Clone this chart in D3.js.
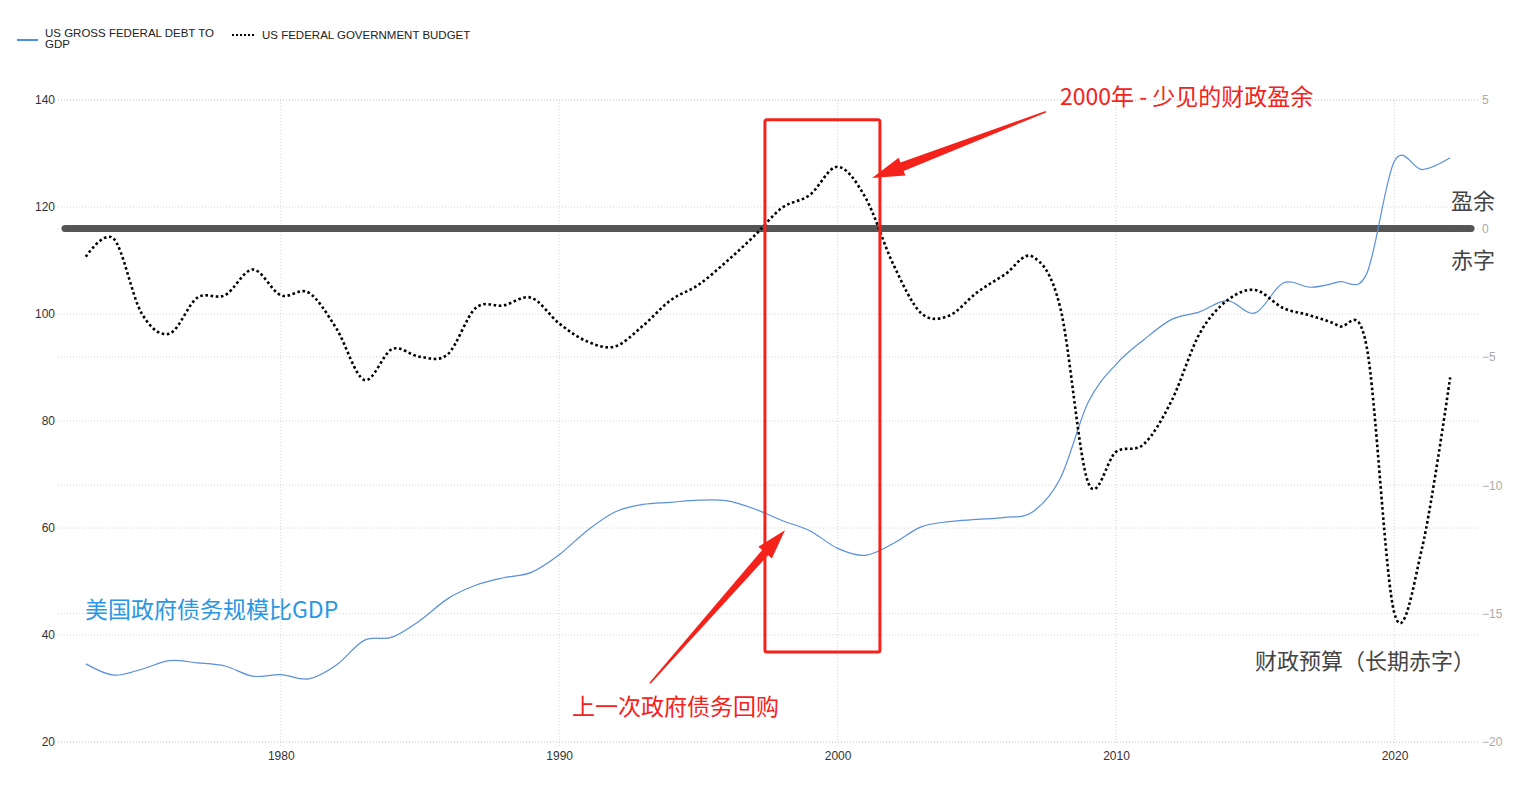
<!DOCTYPE html>
<html>
<head>
<meta charset="utf-8">
<script src="https://cdn.jsdelivr.net/npm/d3@7/dist/d3.min.js"></script>
<style>
  html, body { margin: 0; padding: 0; background: #fff; }
  svg { display: block; }
  text { font-family: "Liberation Sans", Arial, sans-serif; }
  .cjk { font-family: "Noto Sans CJK SC", "Noto Sans", sans-serif; }
</style>
</head>
<body>
<svg id="chart" width="1535" height="803"></svg>
<script>
// ---------- data ----------
const years = d3.range(1973, 2023);
const debtToGdp = [34.6, 32.5, 33.6, 35.2, 34.8, 34.2, 32.3, 32.6, 31.8, 34.4,
  39.0, 39.6, 42.7, 46.8, 49.3, 50.7, 51.7, 55.0, 59.5, 63.0,
  64.4, 64.8, 65.2, 65.1, 63.6, 61.4, 59.5, 56.2, 54.9, 57.1,
  60.2, 61.2, 61.6, 62.0, 63.0, 69.3, 83.5, 90.6, 95.2, 99.0,
  100.4, 102.5, 100.2, 105.8, 105.0, 106.0, 107.5, 128.6, 127.0, 129.2];
const budget = [-1.1, -0.4, -3.3, -4.1, -2.7, -2.6, -1.6, -2.6, -2.5, -3.9,
  -5.9, -4.7, -5.0, -4.9, -3.1, -3.0, -2.7, -3.7, -4.4, -4.6,
  -3.8, -2.8, -2.2, -1.3, -0.3, 0.8, 1.3, 2.4, 1.2, -1.4,
  -3.3, -3.4, -2.5, -1.8, -1.1, -3.1, -9.9, -8.7, -8.4, -6.7,
  -4.1, -2.8, -2.4, -3.1, -3.4, -3.8, -4.6, -15.0, -12.4, -5.8];
const xTicks = [1980, 1990, 2000, 2010, 2020];
const leftTicks = [20, 40, 60, 80, 100, 120, 140];
const rightTicks = [-20, -15, -10, -5, 0, 5];
const legendLabels = [["US GROSS FEDERAL DEBT TO", "GDP"], ["US FEDERAL GOVERNMENT BUDGET"]];

// ---------- scales ----------
const svg = d3.select("#chart");
const x = d3.scaleLinear().domain([1972, 2023]).range([58, 1478]);
const yL = d3.scaleLinear().domain([20, 140]).range([742, 100]);
const yR = d3.scaleLinear().domain([-20, 5]).range([742, 100]);

const gridColor = "#d4d4d4";

// horizontal grid (left axis)
svg.append("g").selectAll("line").data(leftTicks).join("line")
  .attr("x1", x.range()[0]).attr("x2", x.range()[1])
  .attr("y1", d => yL(d)).attr("y2", d => yL(d))
  .attr("stroke", gridColor).attr("stroke-width", 1).attr("stroke-dasharray", "1,2");
// horizontal grid (right axis)
svg.append("g").selectAll("line").data(rightTicks).join("line")
  .attr("x1", x.range()[0]).attr("x2", x.range()[1])
  .attr("y1", d => yR(d)).attr("y2", d => yR(d))
  .attr("stroke", gridColor).attr("stroke-width", 1).attr("stroke-dasharray", "1,2");
// vertical grid
svg.append("g").selectAll("line").data(xTicks).join("line")
  .attr("x1", d => x(d)).attr("x2", d => x(d))
  .attr("y1", yL(140)).attr("y2", yL(20) + 4)
  .attr("stroke", gridColor).attr("stroke-width", 1).attr("stroke-dasharray", "1,2");

// axes (labels only)
const axL = svg.append("g").attr("transform", `translate(${x.range()[0] - 3},0)`)
  .call(d3.axisLeft(yL).tickValues(leftTicks).tickSize(0).tickPadding(0));
axL.select(".domain").remove();
axL.selectAll("text").attr("font-size", 12).attr("fill", "#333")
  .attr("font-family", "Liberation Sans, Arial, sans-serif");

const axR = svg.append("g").attr("transform", `translate(${x.range()[1] + 4},0)`)
  .call(d3.axisRight(yR).tickValues(rightTicks).tickSize(0).tickPadding(0));
axR.select(".domain").remove();
axR.selectAll("text").attr("font-size", 12).attr("fill", "#aaa")
  .attr("font-family", "Liberation Sans, Arial, sans-serif");

const axB = svg.append("g").attr("transform", `translate(0,${yL(20) + 9})`)
  .call(d3.axisBottom(x).tickValues(xTicks).tickFormat(d3.format("d")).tickSize(0).tickPadding(0));
axB.select(".domain").remove();
axB.selectAll("text").attr("font-size", 12).attr("fill", "#333")
  .attr("font-family", "Liberation Sans, Arial, sans-serif");

// zero plot line (right axis)
svg.append("line")
  .attr("x1", x.range()[0] + 7).attr("x2", x.range()[1] - 7)
  .attr("y1", yR(0)).attr("y2", yR(0))
  .attr("stroke", "#555").attr("stroke-width", 7).attr("stroke-linecap", "round");

// series
const lineDebt = d3.line().x((d, i) => x(years[i])).y(d => yL(d)).curve(d3.curveCardinal);
const lineBudget = d3.line().x((d, i) => x(years[i])).y(d => yR(d)).curve(d3.curveCardinal);

svg.append("path").datum(debtToGdp).attr("d", lineDebt)
  .attr("fill", "none").attr("stroke", "#5a90dc").attr("stroke-width", 1.2);
svg.append("path").datum(budget).attr("d", lineBudget)
  .attr("fill", "none").attr("stroke", "#000").attr("stroke-width", 2.6)
  .attr("stroke-dasharray", "2.6,2.6");

// legend
const lg = svg.append("g");
lg.append("line").attr("x1", 17).attr("x2", 38).attr("y1", 40).attr("y2", 40)
  .attr("stroke", "#4d8fe0").attr("stroke-width", 2);
lg.append("text").attr("x", 45).attr("y", 36.5).attr("font-size", 11.5).attr("fill", "#222")
  .selectAll("tspan").data(legendLabels[0]).join("tspan")
  .attr("x", 45).attr("dy", (d, i) => i === 0 ? 0 : 11.5).text(d => d);
lg.append("line").attr("x1", 232).attr("x2", 256).attr("y1", 35).attr("y2", 35)
  .attr("stroke", "#000").attr("stroke-width", 2).attr("stroke-dasharray", "2,2");
lg.append("text").attr("x", 262).attr("y", 39).attr("font-size", 11.5).attr("fill", "#222")
  .text(legendLabels[1][0]);

// ---------- annotations ----------
const red = "#f5221b";
svg.append("rect")
  .attr("x", x(1997.39)).attr("y", yL(136.3))
  .attr("width", x(2001.52) - x(1997.39)).attr("height", yL(36.8) - yL(136.3))
  .attr("rx", 2).attr("fill", "none").attr("stroke", red).attr("stroke-width", 3);

function arrowPath(tx, ty, px, py, tailW, shaftW, headW, headL) {
  const dx = px - tx, dy = py - ty, L = Math.hypot(dx, dy);
  const ux = dx / L, uy = dy / L, nx = -uy, ny = ux;
  const bx = px - ux * headL, by = py - uy * headL;
  const pts = [
    [tx + nx * tailW / 2, ty + ny * tailW / 2],
    [bx + nx * shaftW / 2, by + ny * shaftW / 2],
    [bx + nx * headW / 2, by + ny * headW / 2],
    [px, py],
    [bx - nx * headW / 2, by - ny * headW / 2],
    [bx - nx * shaftW / 2, by - ny * shaftW / 2],
    [tx - nx * tailW / 2, ty - ny * tailW / 2]
  ];
  return "M" + pts.map(p => p.join(",")).join("L") + "Z";
}
svg.append("path")
  .attr("d", arrowPath(x(2007.48), yL(137.8), x(2001.24), yL(125.4), 1.5, 9, 19, 32))
  .attr("fill", red);
svg.append("path")
  .attr("d", arrowPath(x(1993.26), yL(31.0), x(1998.11), yL(59.6), 1.5, 8, 18, 30))
  .attr("fill", red);

const ann = [
  { t: "2000年 - 少见的财政盈余", x: 1060, y: 105, c: red, s: 23 },
  { t: "上一次政府债务回购", x: 572, y: 715, c: red, s: 23 },
  { t: "美国政府债务规模比GDP", x: 85, y: 618, c: "#2b97e3", s: 23 },
  { t: "财政预算（长期赤字）", x: 1255, y: 669, c: "#444", s: 22 },
  { t: "盈余", x: 1451, y: 209, c: "#444", s: 22 },
  { t: "赤字", x: 1451, y: 268, c: "#444", s: 22 }
];
svg.append("g").selectAll("text").data(ann).join("text")
  .attr("class", "cjk").attr("x", d => d.x).attr("y", d => d.y)
  .attr("font-size", d => d.s).attr("fill", d => d.c).text(d => d.t);
</script>
</body>
</html>
